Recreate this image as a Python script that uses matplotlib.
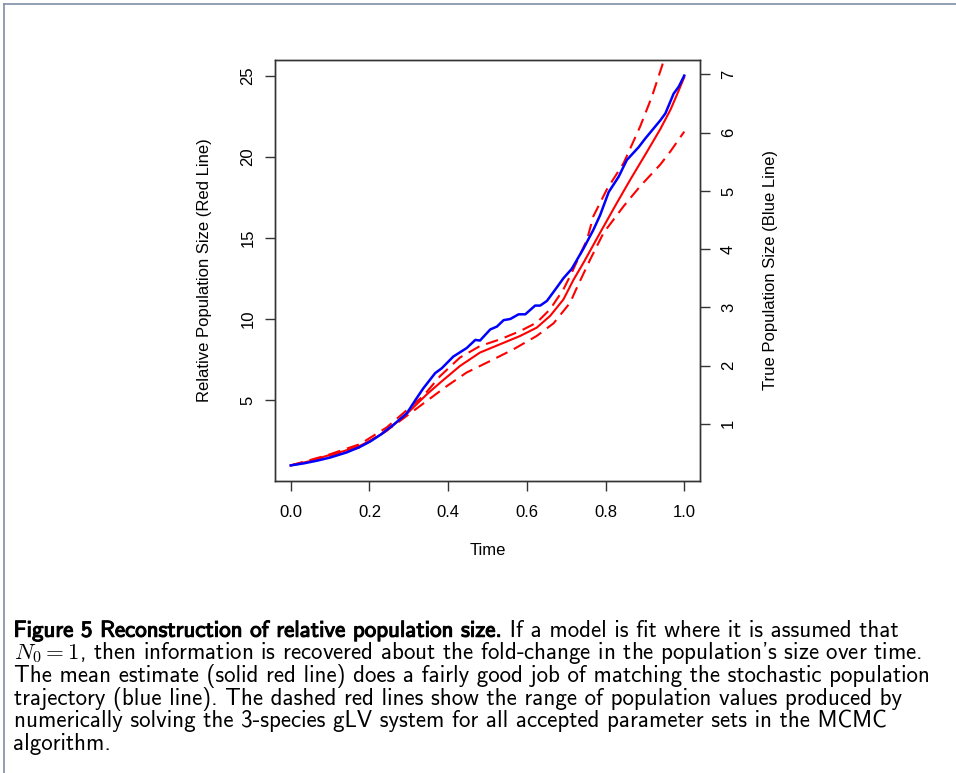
import matplotlib
matplotlib.use('Agg')
import matplotlib.pyplot as plt
from matplotlib import patheffects
from matplotlib.lines import Line2D

plt.rcParams['font.family'] = ['Liberation Sans', 'DejaVu Sans']
plt.rcParams['mathtext.fontset'] = 'cm'

# blue line: true (stochastic) population size, right axis
time_blue = [0, 0.033, 0.066, 0.10, 0.142, 0.175, 0.202, 0.23, 0.261, 0.295, 0.318,
             0.337, 0.367, 0.384, 0.413, 0.447, 0.469, 0.481, 0.507, 0.524, 0.541,
             0.558, 0.579, 0.596, 0.621, 0.634, 0.651, 0.676, 0.693, 0.714, 0.744,
             0.769, 0.786, 0.808, 0.833, 0.854, 0.884, 0.901, 0.939, 0.952, 0.973,
             0.986, 1.0]
true_size = [0.285, 0.32, 0.365, 0.42, 0.508, 0.60, 0.696, 0.82, 0.983, 1.18, 1.42,
             1.61, 1.87, 1.955, 2.154, 2.30, 2.44, 2.43, 2.62, 2.67, 2.78,
             2.80, 2.88, 2.88, 3.03, 3.03, 3.11, 3.34, 3.50, 3.66, 4.01,
             4.33, 4.58, 4.98, 5.24, 5.53, 5.75, 5.90, 6.21, 6.33, 6.67,
             6.79, 6.98]

# solid red line: mean estimate of relative size
time_mean = [0, 0.05, 0.0915, 0.135, 0.176, 0.21, 0.244, 0.295, 0.346, 0.380, 0.430,
             0.481, 0.532, 0.583, 0.625, 0.659, 0.693, 0.719, 0.744, 0.786, 0.829,
             0.863, 0.905, 0.939, 0.965, 0.981, 1.0]
rel_mean = [1.0, 1.27, 1.59, 1.88, 2.21, 2.62, 3.13, 4.18, 5.38, 6.10, 7.12,
            7.95, 8.46, 8.97, 9.48, 10.20, 11.22, 12.45, 13.48, 15.32, 17.17,
            18.60, 20.30, 21.70, 22.90, 23.80, 24.9]

# dashed red lines: range of accepted parameter sets
time_upper = [0, 0.0915, 0.176, 0.244, 0.278, 0.337, 0.380, 0.430, 0.481, 0.532,
              0.583, 0.625, 0.659, 0.693, 0.714, 0.753, 0.769, 0.803, 0.846, 0.888,
              0.918, 0.943, 0.97, 1.0]
rel_upper = [1.0, 1.62, 2.31, 3.34, 4.05, 5.28, 6.51, 7.64, 8.35, 8.76,
             9.27, 9.79, 10.61, 11.84, 12.86, 14.91, 16.34, 17.98, 19.62, 21.87,
             23.72, 25.56, 27.6, 29.9]

time_lower = [0, 0.0915, 0.176, 0.261, 0.312, 0.363, 0.397, 0.447, 0.507, 0.566,
              0.625, 0.668, 0.710, 0.727, 0.761, 0.795, 0.846, 0.888, 0.939, 0.965,
              1.0]
rel_lower = [1.0, 1.55, 2.11, 3.44, 4.36, 5.28, 5.89, 6.72, 7.43, 8.15,
             8.97, 9.75, 11.02, 11.94, 13.68, 15.32, 16.96, 18.19, 19.52, 20.34,
             21.55]

x_ticks = [0.0, 0.2, 0.4, 0.6, 0.8, 1.0]
left_ticks = [5, 10, 15, 20, 25]
right_ticks = [1, 2, 3, 4, 5, 6, 7]
left_range = (1, 25)

caption_bold = 'Figure 5 Reconstruction of relative population size.'
caption_lines = [
    ' If a model is fit where it is assumed that',
    "$N_0 = 1$, then information is recovered about the fold-change in the population's size over time.",
    'The mean estimate (solid red line) does a fairly good job of matching the stochastic population',
    'trajectory (blue line). The dashed red lines show the range of population values produced by',
    'numerically solving the 3-species gLV system for all accepted parameter sets in the MCMC',
    'algorithm.',
]


def r_lims(lo, hi):
    # R style axis range: 4% extension on both ends
    pad = 0.04 * (hi - lo)
    return lo - pad, hi + pad


W, H = 956, 773
fig = plt.figure(figsize=(W / 100, H / 100), dpi=100)
ax = fig.add_axes([275 / W, 1 - 481 / H, 425 / W, 421 / H])
ax2 = ax.twinx()

ax.plot(time_mean, rel_mean, color='#ff0000', lw=1.5)
for t, v in [(time_upper, rel_upper), (time_lower, rel_lower)]:
    ln, = ax.plot(t, v, color='#ff0000', lw=1.5)
    ln.set_dashes([6, 3.4])
ax2.plot(time_blue, true_size, color='#0000ff', lw=1.8)

ax.set_xlim(r_lims(0, 1))
ax.set_ylim(r_lims(*left_range))
ax2.set_ylim(r_lims(min(true_size), max(true_size)))

axis_col = '#333333'
for a in (ax, ax2):
    for s in a.spines.values():
        s.set_color(axis_col)
        s.set_linewidth(1.0)
    a.tick_params(colors=axis_col, labelcolor='black', length=7.2, width=1.0,
                  labelsize=12)

ax.set_xticks(x_ticks)
ax.set_xticklabels([f'{v:.1f}' for v in x_ticks])
ax.tick_params(axis='x', pad=10)
ax.set_yticks(left_ticks)
ax.set_yticklabels([str(v) for v in left_ticks], rotation=90, va='center')
ax.tick_params(axis='y', pad=7)
ax2.set_yticks(right_ticks)
ax2.set_yticklabels([str(v) for v in right_ticks], rotation=90, va='center')
ax2.tick_params(axis='y', pad=8)

ax.set_xlabel('Time', fontsize=12)
ax.xaxis.set_label_coords(0.5, -0.147)
ax.set_ylabel('Relative Population Size (Red Line)', fontsize=12)
ax.yaxis.set_label_coords(-0.148, 0.5)
ax2.set_ylabel('True Population Size (Blue Line)', fontsize=12)
ax2.yaxis.set_label_coords(1.148, 0.5)

# page frame (top and left edges)
frame_col = '#7f8fa6'
fig.add_artist(Line2D([4 / W, 1], [1 - 3.5 / H, 1 - 3.5 / H], color=frame_col, lw=1.2))
fig.add_artist(Line2D([4 / W, 4 / W], [0, 1 - 3.5 / H], color=frame_col, lw=1.2))

# caption, fitted to the reference line width
renderer = fig.canvas.get_renderer()
x0 = 13.5 / W
probe = fig.text(x0, 0.5, caption_lines[2], fontsize=12, family='cmss10')
fs = 12 * 920 / probe.get_window_extent(renderer).width
probe.remove()

base0 = 636.7
step = 22.7
bold = fig.text(x0, 1 - base0 / H, caption_bold, fontsize=fs, family='cmss10',
                va='baseline',
                path_effects=[patheffects.withStroke(linewidth=0.8, foreground='black')])
bw = bold.get_window_extent(renderer).width
fig.text(x0 + (bw + 1) / W, 1 - base0 / H, caption_lines[0], fontsize=fs,
         family='cmss10', va='baseline')
for i, line in enumerate(caption_lines[1:], start=1):
    fig.text(x0, 1 - (base0 + i * step) / H, line, fontsize=fs, family='cmss10',
             va='baseline')

fig.savefig('out.png', dpi=100)
